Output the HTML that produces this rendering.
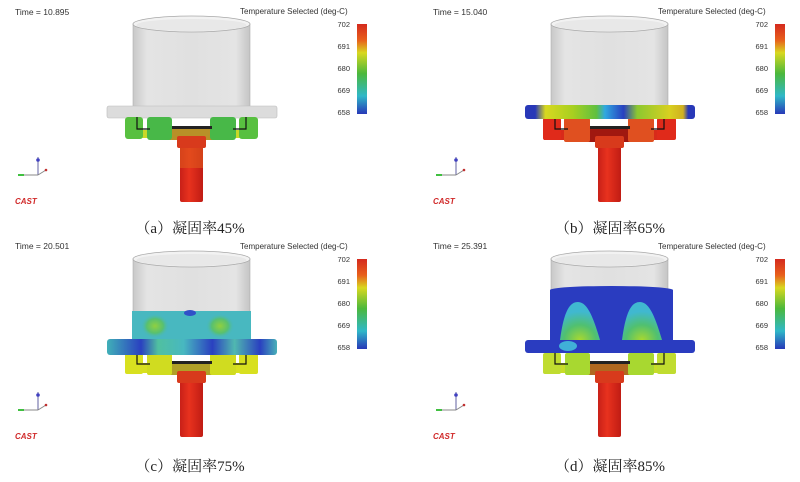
<!DOCTYPE html>
<html><head><meta charset="utf-8"><style>
html,body{margin:0;padding:0;background:#fff;width:800px;height:482px;overflow:hidden}
svg{display:block}
.t{font-family:"Liberation Sans",sans-serif;fill:#333}
.cap{font-family:"Liberation Serif","Noto Serif CJK SC",serif;font-size:15px;fill:#222}
</style></head><body>
<svg width="800" height="482" viewBox="0 0 800 482" xmlns="http://www.w3.org/2000/svg">
<defs>
<linearGradient id="cb" x1="0" y1="0" x2="0" y2="1">
<stop offset="0" stop-color="#d42a1e"/><stop offset="0.18" stop-color="#e8601c"/><stop offset="0.32" stop-color="#d8d820"/><stop offset="0.55" stop-color="#4cb83c"/><stop offset="0.8" stop-color="#30b8c8"/><stop offset="1" stop-color="#2838b8"/>
</linearGradient>
<linearGradient id="cyl" x1="0" y1="0" x2="1" y2="0">
<stop offset="0" stop-color="#c8c8c8"/><stop offset="0.12" stop-color="#e4e4e4"/><stop offset="0.5" stop-color="#e0e0e0"/><stop offset="0.88" stop-color="#e4e4e4"/><stop offset="1" stop-color="#c4c4c4"/>
</linearGradient>
<linearGradient id="spr" x1="0" y1="0" x2="1" y2="0">
<stop offset="0" stop-color="#c82018"/><stop offset="0.4" stop-color="#e8321e"/><stop offset="1" stop-color="#c01c14"/>
</linearGradient>
<linearGradient id="fb" x1="0" y1="0" x2="1" y2="0">
<stop offset="0" stop-color="#2838b8"/><stop offset="0.06" stop-color="#2838b8"/><stop offset="0.12" stop-color="#d8d820"/><stop offset="0.28" stop-color="#a8d020"/><stop offset="0.42" stop-color="#60c040"/><stop offset="0.47" stop-color="#30a8e0"/><stop offset="0.58" stop-color="#2840c0"/><stop offset="0.66" stop-color="#8cc830"/><stop offset="0.85" stop-color="#d8d020"/><stop offset="0.93" stop-color="#d0b020"/><stop offset="0.96" stop-color="#2838b8"/><stop offset="1" stop-color="#2838b8"/>
</linearGradient>
<linearGradient id="fc" x1="0" y1="0" x2="1" y2="0">
<stop offset="0" stop-color="#40b0b8"/><stop offset="0.2" stop-color="#2a40c0"/><stop offset="0.3" stop-color="#50c0a0"/><stop offset="0.45" stop-color="#48b8c0"/><stop offset="0.62" stop-color="#2a40c0"/><stop offset="0.75" stop-color="#50b8b0"/><stop offset="0.9" stop-color="#2a40c0"/><stop offset="1" stop-color="#48b0b8"/>
</linearGradient>
<radialGradient id="arch" cx="0.5" cy="1" r="1">
<stop offset="0" stop-color="#a8d830"/><stop offset="0.4" stop-color="#50c070"/><stop offset="0.75" stop-color="#40b8d0"/><stop offset="1" stop-color="#40b8d0"/>
</radialGradient>
<radialGradient id="blob" cx="0.5" cy="0.5" r="0.5">
<stop offset="0" stop-color="#90d040"/><stop offset="0.6" stop-color="#58c070"/><stop offset="1" stop-color="#48b8b8" stop-opacity="0"/>
</radialGradient>
<g id="legend">
<text class="t" x="240" y="14" font-size="8">Temperature Selected (deg-C)</text>
<rect x="357" y="24" width="10" height="90" fill="url(#cb)"/>
<g class="t" font-size="7.5" text-anchor="end">
<text x="350" y="27">702</text><text x="350" y="49">691</text><text x="350" y="71">680</text><text x="350" y="93">669</text><text x="350" y="115">658</text>
</g>
<line x1="38" y1="175" x2="38" y2="157" stroke="#6060a0" stroke-width="1"/>
<circle cx="38" cy="160" r="1.8" fill="#4040c0"/>
<line x1="38" y1="175" x2="18" y2="175" stroke="#888" stroke-width="1"/>
<line x1="18" y1="175" x2="24" y2="175" stroke="#40c040" stroke-width="2"/>
<line x1="38" y1="175" x2="46" y2="170" stroke="#888" stroke-width="1"/>
<circle cx="46" cy="170" r="1.3" fill="#c03030"/>
<text x="15" y="204" font-family="Liberation Sans,sans-serif" font-size="8" font-weight="bold" font-style="italic" fill="#d02828">CAST</text>
</g>
<g id="cylinder">
<rect x="133" y="24" width="117" height="85" fill="url(#cyl)" stroke="#b0b0b0" stroke-width="0.6"/>
<ellipse cx="191.5" cy="24" rx="58.5" ry="8" fill="#f2f2f2" stroke="#a8a8a8" stroke-width="0.8"/>
<ellipse cx="191.5" cy="25" rx="55" ry="6" fill="#e8e8e8"/>
</g>
<g id="sprue">
<rect x="180" y="140" width="23" height="62" rx="2" fill="url(#spr)"/>
<rect x="177" y="136" width="29" height="12" rx="2" fill="#d83a1c"/>
</g>
<g id="runner">
<path d="M137 117 V129 H150 M233 129 H246 V117" stroke="#111" stroke-width="1.2" fill="none"/>
<rect x="172" y="126" width="40" height="3" fill="#222"/>
</g>
</defs>

<!-- Panel a -->
<g>
<text class="t" x="15" y="15" font-size="8.5">Time = 10.895</text>
<use href="#legend"/>
<use href="#cylinder"/>
<rect x="107" y="106" width="170" height="12" rx="2" fill="#dcdcdc" stroke="#bbb" stroke-width="0.6"/>
<rect x="126" y="130" width="120" height="8" fill="#c8d828"/>
<rect x="168" y="128" width="47" height="12" fill="#b89028"/>
<rect x="125" y="117" width="18" height="22" rx="3" fill="#58c040"/>
<rect x="147" y="117" width="25" height="23" rx="3" fill="#48b848"/>
<rect x="210" y="117" width="26" height="23" rx="3" fill="#48b848"/>
<rect x="239" y="117" width="19" height="22" rx="3" fill="#58c040"/>
<use href="#runner"/>
<use href="#sprue"/>
<rect x="180" y="148" width="23" height="20" fill="#e05a1c" opacity="0.6"/>
<text class="cap" x="190" y="233" text-anchor="middle">（a）凝固率45%</text>
</g>

<!-- Panel b -->
<g transform="translate(418,0)">
<text class="t" x="15" y="15" font-size="8.5">Time = 15.040</text>
<use href="#legend"/>
<use href="#cylinder"/>
<rect x="126" y="130" width="120" height="10" fill="#d82a1a"/>
<rect x="168" y="128" width="47" height="14" fill="#a01810"/>
<rect x="125" y="118" width="18" height="22" rx="2" fill="#e02a1a"/>
<rect x="146" y="118" width="26" height="24" rx="2" fill="#e05020"/>
<rect x="210" y="118" width="26" height="24" rx="2" fill="#e05020"/>
<rect x="239" y="118" width="19" height="22" rx="2" fill="#e02a1a"/>
<use href="#runner"/>
<rect x="107" y="105" width="170" height="14" rx="3" fill="url(#fb)"/>
<use href="#sprue"/>
<text class="cap" x="192" y="233" text-anchor="middle">（b）凝固率65%</text>
</g>

<!-- Panel c -->
<g transform="translate(0,235)">
<text class="t" x="15" y="14" font-size="8.5">Time = 20.501</text>
<use href="#legend"/>
<use href="#cylinder"/>
<rect x="132" y="76" width="119" height="30" fill="#48b8c0"/>
<ellipse cx="155" cy="91" rx="14" ry="12" fill="url(#blob)"/>
<ellipse cx="220" cy="91" rx="14" ry="12" fill="url(#blob)"/>
<ellipse cx="190" cy="78" rx="6" ry="3" fill="#3050c8"/>
<rect x="126" y="128" width="120" height="10" fill="#d8e020"/>
<rect x="168" y="126" width="47" height="14" fill="#b0a028"/>
<rect x="125" y="118" width="18" height="21" rx="2" fill="#d8e020"/>
<rect x="147" y="118" width="25" height="22" rx="2" fill="#d0dc20"/>
<rect x="210" y="118" width="26" height="22" rx="2" fill="#d0dc20"/>
<rect x="239" y="118" width="19" height="21" rx="2" fill="#d8e020"/>
<use href="#runner"/>
<rect x="107" y="104" width="170" height="16" rx="3" fill="url(#fc)"/>
<use href="#sprue"/>
<text class="cap" x="190" y="236" text-anchor="middle">（c）凝固率75%</text>
</g>

<!-- Panel d -->
<g transform="translate(418,235)">
<text class="t" x="15" y="14" font-size="8.5">Time = 25.391</text>
<use href="#legend"/>
<use href="#cylinder"/>
<rect x="132" y="55" width="123" height="52" fill="#2a3cc0"/>
<ellipse cx="193.5" cy="55" rx="61.5" ry="4" fill="#2a3cc0"/>
<path d="M142 105 C146 75 152 67 160 67 C170 67 176 85 182 105 Z" fill="url(#arch)"/>
<path d="M204 105 C208 75 214 67 222 67 C232 67 238 85 244 105 Z" fill="url(#arch)"/>
<rect x="126" y="128" width="120" height="10" fill="#c8dc28"/>
<rect x="168" y="126" width="47" height="14" fill="#b06820"/>
<rect x="125" y="118" width="18" height="21" rx="2" fill="#c0dc30"/>
<rect x="147" y="118" width="25" height="22" rx="2" fill="#a8d830"/>
<rect x="210" y="118" width="26" height="22" rx="2" fill="#a8d830"/>
<rect x="239" y="118" width="19" height="21" rx="2" fill="#c0dc30"/>
<use href="#runner"/>
<rect x="107" y="105" width="170" height="13" rx="3" fill="#2a3cc0"/>
<ellipse cx="150" cy="111" rx="9" ry="5" fill="#40b0d8"/>
<use href="#sprue"/>
<text class="cap" x="192" y="236" text-anchor="middle">（d）凝固率85%</text>
</g>
</svg>
</body></html>
